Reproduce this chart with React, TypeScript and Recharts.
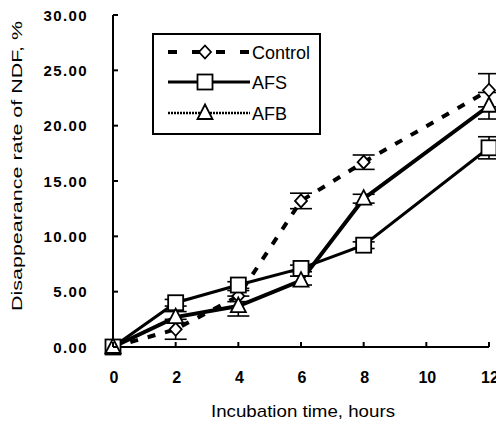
import React from 'react';
import { LineChart, Line, XAxis, YAxis, ErrorBar, Legend } from 'recharts';

const hours = [0, 2, 4, 6, 8, 12];
const xTicks = [0, 2, 4, 6, 8, 10, 12];
const yTicks = [0, 5, 10, 15, 20, 25, 30];
const control = [0, 1.6, 4.6, 13.2, 16.7, 23.2];
const controlErr = [0, 0.9, 0.5, 0.7, 0.65, 1.5];
const afs = [0, 4.0, 5.6, 7.1, 9.2, 18.0];
const afsErr = [0, 0.3, 0.3, 0.3, 0.3, 1.0];
const afb = [0, 2.7, 3.7, 6.0, 13.4, 21.8];
const afbErr = [0, 0.5, 0.9, 0.4, 0.4, 1.2];
const seriesNames = ['Control', 'AFS', 'AFB'];
const xTitle = 'Incubation time, hours';
const yTitle = 'Disappearance rate of NDF, %';

const data = hours.map((h, i) => ({
  hour: h,
  control: control[i],
  controlErr: controlErr[i],
  afs: afs[i],
  afsErr: afsErr[i],
  afb: afb[i],
  afbErr: afbErr[i],
}));

const FONT = '"Liberation Sans", Arial, Helvetica, sans-serif';

const Marker = ({ kind, cx, cy }: { kind: string; cx: number; cy: number }) => {
  if (kind === 'control') {
    return (
      <path
        d={`M${cx},${cy - 6.5}L${cx + 6},${cy}L${cx},${cy + 6.5}L${cx - 6},${cy}Z`}
        fill="#fff"
        stroke="#000"
        strokeWidth={1.8}
      />
    );
  }
  if (kind === 'afs') {
    return <rect x={cx - 7.5} y={cy - 7.5} width={15} height={15} fill="#fff" stroke="#000" strokeWidth={1.8} />;
  }
  return (
    <path
      d={`M${cx},${cy - 8.5}L${cx + 7.5},${cy + 6}L${cx - 7.5},${cy + 6}Z`}
      fill="#fff"
      stroke="#000"
      strokeWidth={1.8}
    />
  );
};

const makeDot = (kind: string) => (props: any) => {
  const { cx, cy, index } = props;
  if (cx == null || cy == null) return <g key={`${kind}-${index}`} />;
  return (
    <g key={`${kind}-${index}`}>
      <Marker kind={kind} cx={cx} cy={cy} />
    </g>
  );
};

const YTick = (props: any) => {
  const { x, y, payload } = props;
  return (
    <g>
      <line x1={x} x2={x + 5} y1={y} y2={y} stroke="#000" strokeWidth={2} />
      <text
        x={x - 25}
        y={y}
        dy={5.5}
        textAnchor="end"
        fontFamily={FONT}
        fontSize={15}
        fontWeight="bold"
        letterSpacing={1.4}
        fill="#000"
      >
        {Number(payload.value).toFixed(2)}
      </text>
    </g>
  );
};

const XTick = (props: any) => {
  const { x, y, payload } = props;
  return (
    <g>
      <line x1={x} x2={x} y1={y} y2={y - 5} stroke="#000" strokeWidth={2} />
      <text
        x={x + 1}
        y={y + 36}
        textAnchor="middle"
        fontFamily={FONT}
        fontSize={16}
        fontWeight="bold"
        fill="#000"
      >
        {payload.value}
      </text>
    </g>
  );
};

const XTitle = (props: any) => {
  const vb = props.viewBox || {};
  return (
    <text
      x={vb.x + vb.width / 2 + 2}
      y={vb.y + 70}
      textAnchor="middle"
      fontFamily={FONT}
      fontSize={17}
      textLength={184}
      lengthAdjust="spacingAndGlyphs"
      fill="#000"
    >
      {xTitle}
    </text>
  );
};

const YTitle = (props: any) => {
  const vb = props.viewBox || {};
  const cx = 22;
  const cy = vb.y + vb.height / 2 - 15;
  return (
    <text
      x={cx}
      y={cy}
      transform={`rotate(-90, ${cx}, ${cy})`}
      textAnchor="middle"
      fontFamily={FONT}
      fontSize={15.5}
      textLength={290}
      lengthAdjust="spacingAndGlyphs"
      fill="#000"
    >
      {yTitle}
    </text>
  );
};

const LegendContent = (props: any) => {
  const payload = [...(props.payload || [])].sort(
    (a: any, b: any) => seriesNames.indexOf(a.value) - seriesNames.indexOf(b.value)
  );
  const rowY = [19, 49, 80];
  return (
    <div
      style={{
        width: 169,
        height: 102,
        border: '2px solid #000',
        boxSizing: 'border-box',
        background: '#fff',
      }}
    >
      <svg width={165} height={98} style={{ display: 'block' }}>
        {payload.map((entry: any, i: number) => {
          const kind = entry.dataKey as string;
          const y = rowY[i] - 2;
          let line;
          if (kind === 'control') {
            line = (
              <line x1={14} x2={96} y1={y} y2={y} stroke="#000" strokeWidth={4} strokeDasharray="9 15" />
            );
          } else if (kind === 'afs') {
            line = <line x1={14} x2={96} y1={y} y2={y} stroke="#000" strokeWidth={3} />;
          } else {
            line = <line x1={14} x2={96} y1={y} y2={y} stroke="#000" strokeWidth={2.5} strokeDasharray="2 1" />;
          }
          return (
            <g key={kind}>
              {line}
              <Marker kind={kind} cx={51} cy={y} />
              <text x={98} y={y + 6.5} fontFamily={FONT} fontSize={18} fill="#000">
                {entry.value}
              </text>
            </g>
          );
        })}
      </svg>
    </div>
  );
};

export default function App() {
  return (
    <div style={{ position: 'absolute', left: 0, top: 0, width: 496, height: 424, background: '#fff' }}>
      <LineChart width={496} height={424} data={data} margin={{ top: 15, right: 7, bottom: 0, left: 0 }}>
        <XAxis
          dataKey="hour"
          type="number"
          domain={[0, 12]}
          ticks={xTicks}
          interval={0}
          height={77}
          tickSize={0}
          tickMargin={0}
          tickLine={false}
          axisLine={{ stroke: '#000', strokeWidth: 2 }}
          tick={<XTick />}
          label={{ content: <XTitle /> }}
        />
        <YAxis
          type="number"
          domain={[0, 30]}
          ticks={yTicks}
          interval={0}
          width={113}
          tickSize={0}
          tickMargin={0}
          tickLine={false}
          axisLine={{ stroke: '#000', strokeWidth: 2 }}
          tick={<YTick />}
          label={{ content: <YTitle /> }}
        />
        <Legend
          layout="vertical"
          align="center"
          verticalAlign="middle"
          content={<LegendContent />}
          wrapperStyle={{ position: 'absolute', left: 152, top: 33, width: 169, height: 102 }}
        />
        <Line
          name={seriesNames[0]}
          dataKey="control"
          stroke="#000"
          strokeWidth={4}
          strokeDasharray="8 10"
          dot={makeDot('control')}
          isAnimationActive={false}
        >
          <ErrorBar dataKey="controlErr" direction="y" width={11} stroke="#000" strokeWidth={1.6} />
        </Line>
        <Line
          name={seriesNames[1]}
          dataKey="afs"
          stroke="#000"
          strokeWidth={3}
          dot={makeDot('afs')}
          isAnimationActive={false}
        >
          <ErrorBar dataKey="afsErr" direction="y" width={11} stroke="#000" strokeWidth={1.6} />
        </Line>
        <Line
          name={seriesNames[2]}
          dataKey="afb"
          stroke="#000"
          strokeWidth={4}
          dot={makeDot('afb')}
          isAnimationActive={false}
        >
          <ErrorBar dataKey="afbErr" direction="y" width={11} stroke="#000" strokeWidth={1.6} />
        </Line>
      </LineChart>
    </div>
  );
}
